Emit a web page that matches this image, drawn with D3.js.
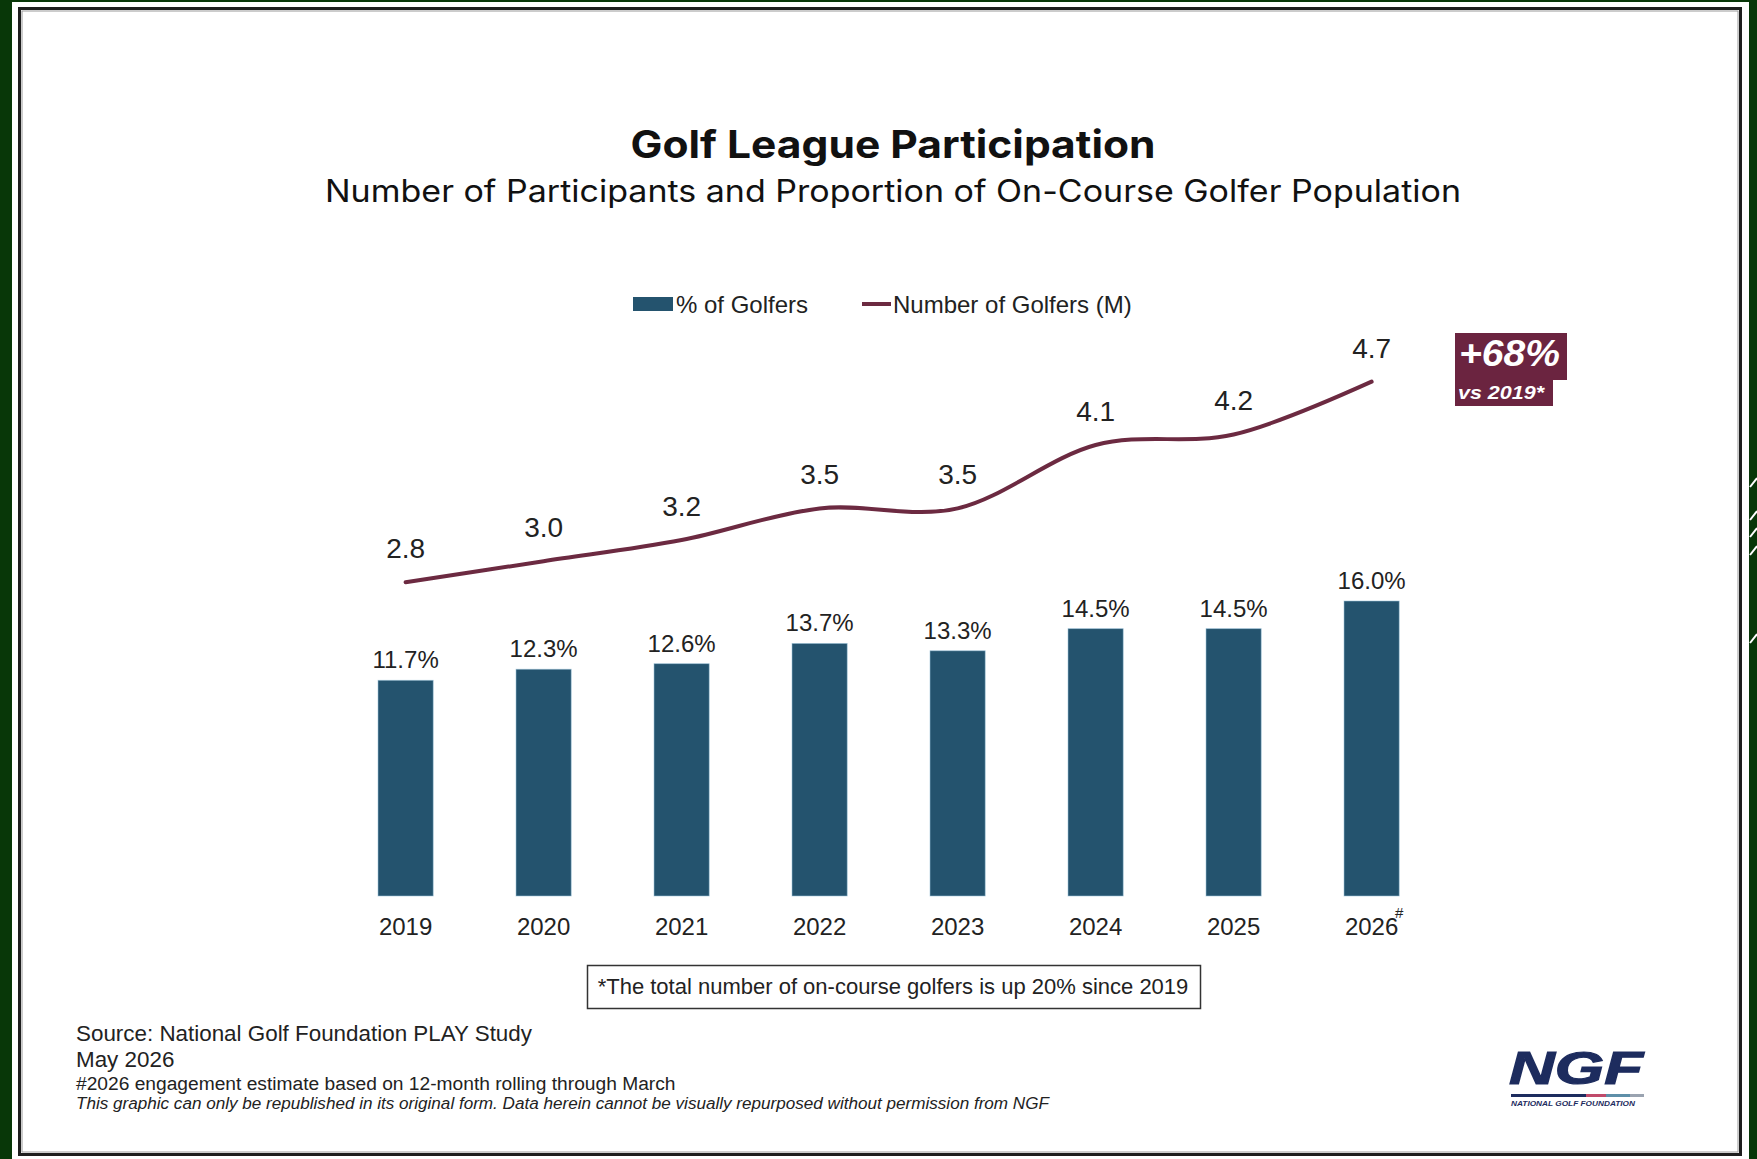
<!DOCTYPE html>
<html>
<head>
<meta charset="utf-8">
<script src="https://cdn.jsdelivr.net/npm/d3@7"></script>
<style>
  html, body { margin: 0; padding: 0; background: #083708; }
  svg { display: block; }
</style>
</head>
<body>
<svg id="chart" width="1757" height="1159"></svg>
<script>
// Golf league participation, 2019-2026
const years = ["2019", "2020", "2021", "2022", "2023", "2024", "2025", "2026"];
const yearNotes = ["", "", "", "", "", "", "", "#"];
const pctGolfers = [11.7, 12.3, 12.6, 13.7, 13.3, 14.5, 14.5, 16.0];
const numGolfers = [2.8, 3.0, 3.2, 3.5, 3.5, 4.1, 4.2, 4.7];

const seriesNames = ["% of Golfers", "Number of Golfers (M)"];
const titleText = "Golf League Participation";
const subtitleText = "Number of Participants and Proportion of On-Course Golfer Population";
const badgeMain = "+68%";
const badgeSub = "vs 2019*";
const boxNote = "*The total number of on-course golfers is up 20% since 2019";
const footerLines = [
  "Source: National Golf Foundation PLAY Study",
  "May 2026",
  "#2026 engagement estimate based on 12-month rolling through March",
  "This graphic can only be republished in its original form. Data herein cannot be visually repurposed without permission from NGF"
];

const BAR = "#24536e";
const LINE = "#6c2a41";
const BADGE = "#6b2440";
const NAVY = "#1d2c5e";
const SANS = "'Liberation Sans', Arial, sans-serif";
const HEAD = "Inter, 'Liberation Sans', Arial, sans-serif";

const svg = d3.select("#chart");

// page frame
svg.append("rect").attr("x", 12).attr("y", 2).attr("width", 1737).attr("height", 1160).attr("fill", "#fff");
svg.append("rect").attr("x", 19.5).attr("y", 8.5).attr("width", 1721).attr("height", 1146)
  .attr("fill", "none").attr("stroke", "#1e1e1e").attr("stroke-width", 3);
svg.append("rect").attr("x", 22).attr("y", 11).attr("width", 1716).attr("height", 1141)
  .attr("fill", "none").attr("stroke", "#9a9a9a").attr("stroke-width", 1);

// decorative strokes on the right margin
const marks = [478, 511, 528, 546, 634];
svg.append("g").selectAll("line").data(marks).join("line")
  .attr("x1", 1750).attr("x2", 1757)
  .attr("y1", d => d + 9).attr("y2", d => d)
  .attr("stroke", "#fff").attr("stroke-width", 2);

// titles
svg.append("text").attr("x", 893).attr("y", 158).attr("text-anchor", "middle")
  .attr("font-family", HEAD).attr("font-weight", 700).attr("font-size", 38)
  .attr("textLength", 525).attr("lengthAdjust", "spacingAndGlyphs")
  .attr("fill", "#111").text(titleText);
svg.append("text").attr("x", 893).attr("y", 202).attr("text-anchor", "middle")
  .attr("font-family", HEAD).attr("font-weight", 400).attr("font-size", 30.5)
  .attr("textLength", 1136).attr("lengthAdjust", "spacingAndGlyphs")
  .attr("fill", "#111").text(subtitleText);

// scales
const x = d3.scaleBand().domain(years).range([336.6, 1440.6]).paddingInner(0.6).paddingOuter(0.3);
const yPct = d3.scaleLinear().domain([0, 16]).range([896, 601]);
const yNum = d3.scaleLinear().domain([0, 5]).range([878, 350]);

// legend
const lg = svg.append("g").attr("font-family", SANS).attr("font-size", 24).attr("fill", "#222");
lg.append("rect").attr("x", 633).attr("y", 297).attr("width", 40).attr("height", 14).attr("fill", BAR);
lg.append("text").attr("x", 676).attr("y", 313).text(seriesNames[0]);
lg.append("line").attr("x1", 862).attr("x2", 891).attr("y1", 304).attr("y2", 304)
  .attr("stroke", LINE).attr("stroke-width", 4);
lg.append("text").attr("x", 893).attr("y", 313).text(seriesNames[1]);

// bars
const bars = years.map((yr, i) => ({ yr, v: pctGolfers[i] }));
svg.append("g").selectAll("rect").data(bars).join("rect")
  .attr("x", d => x(d.yr)).attr("width", x.bandwidth())
  .attr("y", d => yPct(d.v)).attr("height", d => yPct(0) - yPct(d.v))
  .attr("fill", BAR).attr("stroke", "#9cc3d8").attr("stroke-width", 0.8).attr("stroke-opacity", 0.7);

svg.append("g").attr("font-family", SANS).attr("font-size", 24).attr("fill", "#222")
  .attr("text-anchor", "middle")
  .selectAll("text").data(bars).join("text")
  .attr("x", d => x(d.yr) + x.bandwidth() / 2)
  .attr("y", d => yPct(d.v) - 12)
  .text(d => d.v.toFixed(1) + "%");

// year axis
const axis = svg.append("g").attr("transform", "translate(0,896)")
  .call(d3.axisBottom(x).tickSize(0).tickPadding(22));
axis.select(".domain").remove();
axis.selectAll("text").attr("font-family", SANS).attr("font-size", 24).attr("fill", "#222");
axis.selectAll(".tick").each(function (d, i) {
  const note = yearNotes[i];
  if (!note) return;
  const t = d3.select(this).select("text");
  const w = t.node().getComputedTextLength();
  d3.select(this).append("text")
    .attr("x", w / 2 + 1).attr("y", 22).attr("font-family", SANS)
    .attr("font-size", 15).attr("fill", "#222").text(note);
});

// participant line
const pts = years.map((yr, i) => ({ yr, v: numGolfers[i] }));
const cx = d => x(d.yr) + x.bandwidth() / 2;
const line = d3.line().x(cx).y(d => yNum(d.v)).curve(d3.curveCardinal.tension(0));
svg.append("path").datum(pts).attr("d", line)
  .attr("fill", "none").attr("stroke", LINE).attr("stroke-width", 4).attr("stroke-linecap", "round");

svg.append("g").attr("font-family", SANS).attr("font-size", 28).attr("fill", "#222")
  .attr("text-anchor", "middle")
  .selectAll("text").data(pts).join("text")
  .attr("x", cx).attr("y", d => yNum(d.v) - 24)
  .text(d => d.v.toFixed(1));

// growth badge
const bg = svg.append("g").attr("font-family", SANS).attr("font-style", "italic")
  .attr("font-weight", 700).attr("fill", "#fff");
bg.append("rect").attr("x", 1455).attr("y", 333).attr("width", 112).attr("height", 47).attr("fill", BADGE);
bg.append("rect").attr("x", 1455).attr("y", 379).attr("width", 98).attr("height", 27).attr("fill", BADGE);
bg.append("text").attr("x", 1459).attr("y", 366).attr("font-size", 36)
  .attr("textLength", 101).attr("lengthAdjust", "spacingAndGlyphs").text(badgeMain);
bg.append("text").attr("x", 1458).attr("y", 399).attr("font-size", 18)
  .attr("textLength", 86).attr("lengthAdjust", "spacingAndGlyphs").text(badgeSub);

// note box
svg.append("rect").attr("x", 587.5).attr("y", 965.5).attr("width", 613).attr("height", 43)
  .attr("fill", "#fff").attr("stroke", "#333").attr("stroke-width", 1.5);
svg.append("text").attr("x", 893).attr("y", 994).attr("text-anchor", "middle")
  .attr("font-family", SANS).attr("font-size", 22).attr("fill", "#222").text(boxNote);

// footer
const fy = [1041, 1067, 1090, 1109];
const fs = [22.4, 22.4, 19.2, 17.1];
svg.append("g").attr("font-family", SANS).attr("fill", "#222")
  .selectAll("text").data(footerLines).join("text")
  .attr("x", 76).attr("y", (d, i) => fy[i]).attr("font-size", (d, i) => fs[i])
  .attr("font-style", (d, i) => i === 3 ? "italic" : "normal")
  .text(d => d);

// NGF logo
const logo = svg.append("g").attr("font-family", SANS).attr("font-style", "italic").attr("font-weight", 700);
logo.append("text").attr("x", 1509).attr("y", 1084).attr("font-size", 46)
  .attr("textLength", 134).attr("lengthAdjust", "spacingAndGlyphs").attr("fill", NAVY)
  .attr("stroke", NAVY).attr("stroke-width", 1.2).text("NGF");
const stripe = [[1511, 1586, NAVY], [1586, 1606, "#c04a6a"], [1606, 1630, "#5e8fa8"], [1630, 1644, "#9aa3b0"]];
logo.selectAll("rect.s").data(stripe).join("rect").attr("class", "s")
  .attr("x", d => d[0]).attr("width", d => d[1] - d[0]).attr("y", 1094).attr("height", 3)
  .attr("fill", d => d[2]);
logo.append("text").attr("x", 1511).attr("y", 1106).attr("font-size", 7.5)
  .attr("textLength", 124).attr("lengthAdjust", "spacingAndGlyphs").attr("fill", NAVY)
  .text("NATIONAL GOLF FOUNDATION");
</script>
</body>
</html>
